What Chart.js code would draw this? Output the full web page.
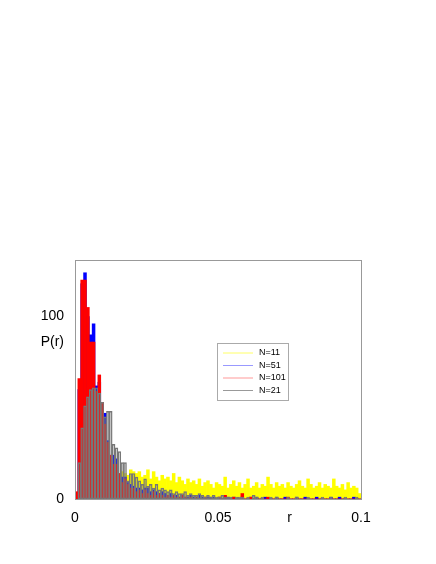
<!DOCTYPE html><html><head><script src="https://cdn.jsdelivr.net/npm/chart.js@4"></script>
<style>body{margin:0;background:#fff}</style></head><body>
<canvas id="c" width="436" height="564" style="width:436px;height:564px"></canvas>
<script>
const n11=[0,2,4,6,8,10,11,12,13,13,14,14,14,15,15,14,15,14,13,16,15,14,15,12,13,16,11,15,12,10,13,11,12,10,14,9,12,10,8,11,9,10,8,11,7,9,10,8,6,9,8,7,12,6,8,10,7,9,6,8,11,6,7,9,6,8,7,12,8,6,9,7,8,6,9,7,6,8,10,7,6,11,8,6,7,9,6,8,7,6,11,7,6,8,5,9,6,7,6,3];
const n51=[3,60,118,124,100,90,96,62,64,52,47,32,24,24,22,13,12,12,9,8,7,6,6,5,6,6,4,5,4,3,4,3,2,3,2,2,1,2,1,1,2,1,1,2,1,1,1,1,1,0,1,0,1,1,0,1,0,0,1,0,0,1,0,1,0,0,1,0,0,0,1,0,0,1,0,0,0,1,0,0,1,0,0,0,1,0,0,0,0,1,0,0,1,0,0,0,0,1,0,0];
const n101=[4,66,120,120,105,86,86,59,68,53,41,31,24,19,19,14,9,11,8,6,6,4,5,3,5,3,2,4,2,3,2,1,2,1,2,1,1,2,1,0,1,0,1,0,0,1,0,0,0,0,1,0,2,0,0,1,0,0,3,0,0,1,0,0,0,0,0,1,0,0,0,0,0,0,1,0,0,0,0,0,0,0,0,0,0,0,0,0,0,0,0,0,0,0,0,0,0,0,0,0];
const n21=[0,20,39,51,56,60,61,61,58,53,45,48,48,30,28,26,20,20,10,14,14,12,10,8,11,7,8,6,8,5,6,5,4,5,3,4,3,3,4,2,3,2,2,3,2,1,2,1,2,1,1,2,1,1,1,0,1,1,1,0,1,0,2,1,0,1,0,0,1,0,1,0,0,0,1,0,0,1,0,0,0,1,0,0,0,0,1,0,0,1,0,0,0,0,1,0,0,0,1,0];
const binWidth=0.001;
const xTicks=[0,0.05,0.075,0.1], xLabels=['0','0.05','r','0.1'];
const yTicks=[0,86,100], yLabels=['0','P(r)','100'];
const pts=a=>a.map((v,i)=>({x:(i+0.5)*binWidth,y:v}));
const base={barPercentage:1,categoryPercentage:1,grouped:false,borderSkipped:false};
const frame={id:'frame',afterDraw(c){const a=c.chartArea,x=c.ctx;x.save();x.strokeStyle='#999';x.lineWidth=1;x.strokeRect(a.left+.5,a.top+.5,a.right-a.left,a.bottom-a.top);
 const L=217,T=343,W=71,H=57;x.fillStyle='#fff';x.fillRect(L,T,W,H);x.strokeStyle='#aaa';x.strokeRect(L+.5,T+.5,W,H);
 const items=[['N=11','#ffff66'],['N=51','#9999ff'],['N=101','#ff9999'],['N=21','#999999']];
 x.font='9px "Liberation Sans"';x.textBaseline='middle';
 items.forEach((it,i)=>{const y=T+10+i*12.5;x.strokeStyle=it[1];x.beginPath();x.moveTo(L+6,y);x.lineTo(L+36,y);x.stroke();x.fillStyle='#000';x.fillText(it[0],L+42,y);});x.restore();}};
new Chart(document.getElementById('c'),{type:'bar',
data:{datasets:[
 {...base,label:'N=11',data:pts(n11),backgroundColor:'#ffff00',order:4},
 {...base,label:'N=51',data:pts(n51),backgroundColor:'#0000ff',order:3},
 {...base,label:'N=101',data:pts(n101),backgroundColor:'#ff0000',order:2},
 {...base,label:'N=21',data:pts(n21),backgroundColor:'rgba(0,0,0,0)',borderColor:'#777',borderWidth:0.8,order:1}]},
options:{responsive:false,animation:false,layout:{padding:{top:260,right:75,left:0,bottom:0}},
 plugins:{legend:{display:false},tooltip:{enabled:false}},
 scales:{
  x:{type:'linear',offset:false,min:0,max:0.1,grid:{display:false},border:{display:false},
   afterBuildTicks:s=>{s.ticks=xTicks.map(v=>({value:v}))},afterFit:s=>{s.height=65},
   ticks:{color:'#000',font:{size:14,family:'Liberation Sans'},maxRotation:0,autoSkip:false,callback:(v,i)=>xLabels[i]}},
  y:{min:0,max:131,grid:{display:false},border:{display:false},
   afterBuildTicks:s=>{s.ticks=yTicks.map(v=>({value:v}))},afterFit:s=>{s.width=75},
   ticks:{color:'#000',font:{size:14,family:'Liberation Sans'},autoSkip:false,callback:(v,i)=>yLabels[i]}}}},
plugins:[frame]});
</script></body></html>
